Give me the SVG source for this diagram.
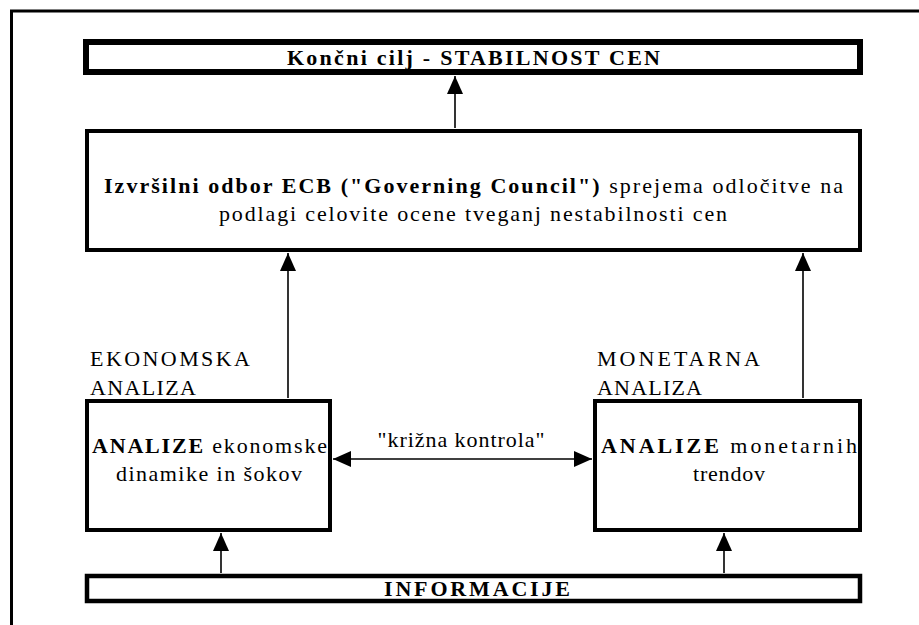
<svg xmlns="http://www.w3.org/2000/svg" width="919" height="625" viewBox="0 0 919 625">
<style>
text{font-family:"Liberation Serif","Times New Roman",serif;font-size:22px;fill:#000}
.b{font-weight:bold}
.box{fill:#fff;stroke:#000}
.c{stroke:#000;stroke-width:1.6;fill:none}
</style>
<defs>
<marker id="ah" viewBox="0 0 18 16" refX="18" refY="8" markerWidth="18" markerHeight="16" markerUnits="userSpaceOnUse" orient="auto-start-reverse">
<path d="M0,0 L18,8 L0,16 z" fill="#000"/>
</marker>
</defs>
<rect width="919" height="625" fill="#fff"/>
<rect x="11.5" y="11" width="1000" height="1000" fill="none" stroke="#000" stroke-width="3"/>

<g id="cilj">
<rect class="box" x="86" y="42" width="774" height="30" stroke-width="6"/>
<text class="b" x="473.5" y="65" text-anchor="middle" textLength="373" lengthAdjust="spacing">Končni cilj - STABILNOST CEN</text>
</g>

<g id="svet">
<rect class="box" x="87" y="131" width="773" height="119" stroke-width="4"/>
<text x="104" y="193" textLength="739" lengthAdjust="spacing"><tspan class="b">Izvršilni odbor ECB ("Governing Council")</tspan> sprejema odločitve na</text>
<text x="473" y="221" text-anchor="middle" textLength="508" lengthAdjust="spacing">podlagi celovite ocene tveganj nestabilnosti cen</text>
</g>

<g id="ekon">
<text x="90" y="366" textLength="160" lengthAdjust="spacing">EKONOMSKA</text>
<text x="90" y="395" textLength="106" lengthAdjust="spacing">ANALIZA</text>
<rect class="box" x="87" y="401" width="243" height="129" stroke-width="4"/>
<text x="92" y="453" textLength="235" lengthAdjust="spacing"><tspan class="b">ANALIZE</tspan> ekonomske</text>
<text x="209" y="481" text-anchor="middle" textLength="186" lengthAdjust="spacing">dinamike in šokov</text>
</g>

<g id="mon">
<text x="597" y="366" textLength="163" lengthAdjust="spacing">MONETARNA</text>
<text x="597" y="395" textLength="105" lengthAdjust="spacing">ANALIZA</text>
<rect class="box" x="595" y="401" width="265" height="129" stroke-width="4"/>
<text x="601" y="453" textLength="256" lengthAdjust="spacing"><tspan class="b">ANALIZE</tspan> monetarnih</text>
<text x="729" y="481" text-anchor="middle" textLength="72" lengthAdjust="spacing">trendov</text>
</g>

<g id="info">
<rect class="box" x="87" y="576" width="773" height="25" stroke-width="4.5"/>
<text class="b" x="477" y="596" text-anchor="middle" textLength="186" lengthAdjust="spacing">INFORMACIJE</text>
</g>

<g id="connectors">
<line class="c" x1="455" y1="128" x2="455" y2="76" marker-end="url(#ah)"/>
<line class="c" x1="288" y1="398" x2="288" y2="253" marker-end="url(#ah)"/>
<line class="c" x1="803" y1="398" x2="803" y2="253" marker-end="url(#ah)"/>
<line class="c" x1="333" y1="459" x2="592" y2="459" stroke-width="2" marker-start="url(#ah)" marker-end="url(#ah)"/>
<line class="c" x1="221" y1="573" x2="221" y2="533" marker-end="url(#ah)"/>
<line class="c" x1="724" y1="573" x2="724" y2="533" marker-end="url(#ah)"/>
<text x="461" y="447" text-anchor="middle" textLength="167" lengthAdjust="spacing">"križna kontrola"</text>
</g>
</svg>
